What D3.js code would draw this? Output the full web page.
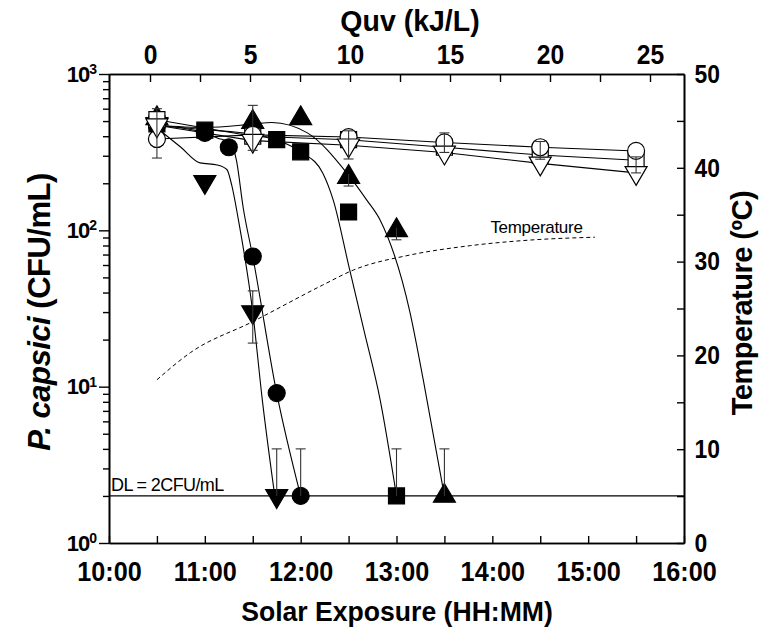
<!DOCTYPE html>
<html>
<head>
<meta charset="utf-8">
<script src="https://cdn.jsdelivr.net/npm/d3@7"></script>
<style>
  body { margin: 0; background: #fff; }
  text { font-family: "Liberation Sans", Arial, sans-serif; }
</style>
</head>
<body>
<svg id="chart" width="759" height="630"></svg>
<script>
// times are decimal hours (10.5 = 10:30), counts in CFU/mL

// filled symbols (data points)
const circT = [10.5, 11.0, 11.25, 11.5, 11.75, 12.0]
const circV = [470, 420, 340, 68, 9.1, 2]
const downT = [10.5, 11.0, 11.5, 11.75]
const downV = [480, 204, 30, 2]
const sqT = [10.5, 11.0, 11.75, 12.0, 12.5, 13.0]
const sqV = [480, 437, 380, 318, 131, 2]
const upT = [10.5, 11.5, 12.0, 12.5, 13.0, 13.5]
const upV = [520, 493, 520, 219, 100, 2]

// fitted curves for the filled series
const circFitT = [10.5, 11.0, 11.13, 11.27, 11.33, 11.4, 11.5, 11.75, 12.0]
const circFitV = [470, 420, 390, 360, 280, 140, 68, 9.1, 2]
const downFitT = [10.5, 10.75, 10.95, 11.13, 11.23, 11.28, 11.35, 11.5, 11.6, 11.73]
const downFitV = [452, 340, 270, 262, 245, 195, 117, 30, 8.2, 2]
const sqFitT = [10.5, 11.0, 11.5, 11.86, 12.02, 12.23, 12.34, 12.5, 12.66, 12.83, 13.0]
const sqFitV = [470, 440, 410, 355, 313, 233, 156, 60, 23, 8.2, 2]
const upFitT = [10.5, 11.0, 11.5, 11.7, 12.07, 12.48, 12.69, 12.83, 13.14, 13.28, 13.5]
const upFitV = [470, 455, 478, 490, 420, 233, 156, 116, 30, 11, 2]

// open symbols (controls), joined point to point
const openT = [10.5, 11.5, 12.5, 13.5, 14.5, 15.5]
const oCircV = [384, 408, 395, 365, 340, 322]
const oSqV = [510, 400, 380, 340, 303, 281]
const oDownV = [470, 375, 350, 315, 268, 233]

// error bars: [time, low, high] (null = no whisker on that side)
const errBars = [
  [10.5, 290, 600], [11.5, 325, 630], [12.5, 286, 433], [13.5, 315, 420],
  [14.5, 285, 370], [15.5, 233, 295],
  [11.5, 19, 41], [11.75, null, 4], [12.0, null, 4], [13.0, null, 4], [13.5, null, 4],
  [12.5, 192, null], [13.0, 87, null]
]

// temperature (right axis, ºC)
const tempT = [10.5, 10.85, 11.5, 12.23, 12.55, 13.14, 13.77, 14.4, 15.07]
const tempV = [17.4, 20.3, 23.6, 27.5, 29.1, 30.7, 31.7, 32.3, 32.6]

const detLimit = 2
const hourTicks = [10, 11, 12, 13, 14, 15, 16]
const quvTicks = [0, 5, 10, 15, 20, 25]

const svg = d3.select("#chart")
const margin = {top: 74, right: 75, bottom: 87, left: 109}
const W = 759 - margin.left - margin.right
const H = 630 - margin.top - margin.bottom
const g = svg.append("g").attr("transform", `translate(${margin.left},${margin.top})`)

const x = d3.scaleLinear().domain([10, 16]).range([0, W])
const y = d3.scaleLog().domain([1, 1000]).range([H, 0])
const yT = d3.scaleLinear().domain([0, 50]).range([H, 0])
const xq = d3.scaleLinear().domain([-2.05, 26.7]).range([0, W])

// ---- axes
const styleAxis = (sel, fs, sx = 1) => {
  sel.select(".domain").attr("stroke-width", 1.6)
  sel.selectAll(".tick line").attr("stroke-width", 1.4)
  sel.selectAll("text").attr("font-size", fs).attr("font-weight", "bold").attr("fill", "#000")
    .attr("transform", `scale(${sx},1)`)
}

// bottom
g.append("g").attr("transform", `translate(0,${H})`)
  .call(d3.axisBottom(x).tickValues(d3.range(10.5, 16, 1)).tickSize(-7).tickSizeOuter(0).tickFormat(""))
  .call(s => styleAxis(s, 28))
g.append("g").attr("transform", `translate(0,${H})`)
  .call(d3.axisBottom(x).tickValues(hourTicks).tickSize(-7).tickSizeOuter(0).tickPadding(18)
    .tickFormat(d => `${d}:00`))
  .call(s => styleAxis(s, 28, 0.9))

// top
g.append("g")
  .call(d3.axisTop(xq).tickValues(d3.range(2.5, 26, 5)).tickSize(-8).tickSizeOuter(0).tickFormat(""))
  .call(s => styleAxis(s, 28))
g.append("g")
  .call(d3.axisTop(xq).tickValues(quvTicks).tickSize(-8).tickSizeOuter(0).tickPadding(10))
  .call(s => styleAxis(s, 28, 0.88))

// left (log)
const minorLog = []
for (const dec of [1, 10, 100]) for (let k = 2; k <= 9; k++) minorLog.push(dec * k)
g.append("g")
  .call(d3.axisLeft(y).tickValues(minorLog).tickSize(6).tickSizeOuter(0).tickFormat(""))
  .call(s => styleAxis(s, 22))
g.append("g")
  .call(d3.axisLeft(y).tickValues([1, 10, 100, 1000]).tickSize(10).tickSizeOuter(0).tickPadding(3))
  .call(s => styleAxis(s, 22))
  .call(s => s.selectAll(".tick text").each(function(d) {
    const t = d3.select(this).text(null).attr("letter-spacing", -1)
    t.append("tspan").text("10")
    t.append("tspan").attr("dy", "-0.55em").attr("font-size", 14).text(Math.round(Math.log10(d)))
  }))

// right (temperature)
g.append("g").attr("transform", `translate(${W},0)`)
  .call(d3.axisRight(yT).tickValues([5, 15, 25, 35, 45]).tickSize(-7).tickSizeOuter(0).tickFormat(""))
  .call(s => styleAxis(s, 26))
g.append("g").attr("transform", `translate(${W},0)`)
  .call(d3.axisRight(yT).tickValues(d3.range(0, 51, 10)).tickSize(-7).tickSizeOuter(0).tickPadding(12))
  .call(s => styleAxis(s, 26, 0.88))

// axis titles
svg.append("text").attr("transform", "translate(410,31) scale(0.95,1)").attr("text-anchor", "middle")
  .attr("font-size", 30).attr("font-weight", "bold").text("Quv (kJ/L)")
svg.append("text").attr("transform", "translate(397,621) scale(0.95,1)").attr("text-anchor", "middle")
  .attr("font-size", 28).attr("font-weight", "bold").text("Solar Exposure (HH:MM)")
const lt = svg.append("text").attr("transform", "translate(50,312) rotate(-90)")
  .attr("text-anchor", "middle").attr("font-size", 31).attr("font-weight", "bold").attr("letter-spacing", -0.5)
lt.append("tspan").attr("font-style", "italic").text("P. capsici")
lt.append("tspan").text(" (CFU/mL)")
svg.append("text").attr("transform", "translate(752,303) rotate(-90)")
  .attr("text-anchor", "middle").attr("font-size", 29).attr("font-weight", "bold").attr("letter-spacing", -0.5)
  .text("Temperature (ºC)")

// ---- detection limit
g.append("line").attr("x1", 0).attr("x2", W).attr("y1", y(detLimit)).attr("y2", y(detLimit))
  .attr("stroke", "#000").attr("stroke-width", 1.3)
g.append("text").attr("x", 2).attr("y", y(detLimit) - 5).attr("font-size", 18)
  .attr("letter-spacing", -0.6).text("DL = 2CFU/mL")

// ---- temperature curve
const tLine = d3.line().x(d => x(d[0])).y(d => yT(d[1])).curve(d3.curveMonotoneX)
g.append("path").datum(d3.zip(tempT, tempV)).attr("d", tLine)
  .attr("fill", "none").attr("stroke", "#000").attr("stroke-width", 1).attr("stroke-dasharray", "4,3")
g.append("text").attr("x", x(13.98)).attr("y", yT(32.6) - 4).attr("font-size", 17)
  .attr("letter-spacing", -0.3).text("Temperature")

// ---- fitted curves and control lines
const fLine = d3.line().x(d => x(d[0])).y(d => y(d[1])).curve(d3.curveMonotoneX)
const sLine = d3.line().x(d => x(d[0])).y(d => y(d[1]))
for (const [t, v] of [[circFitT, circFitV], [downFitT, downFitV], [sqFitT, sqFitV], [upFitT, upFitV]]) {
  g.append("path").datum(d3.zip(t, v)).attr("d", fLine)
    .attr("fill", "none").attr("stroke", "#000").attr("stroke-width", 1.1)
}
for (const v of [oCircV, oSqV, oDownV]) {
  g.append("path").datum(d3.zip(openT, v)).attr("d", sLine)
    .attr("fill", "none").attr("stroke", "#000").attr("stroke-width", 1.1)
}

// ---- markers
const shape = {
  circle: () => d3.symbol(d3.symbolCircle, Math.PI * 8.5 * 8.5)(),
  square: () => d3.symbol(d3.symbolSquare, 16 * 16)(),
  up: () => "M0,-12.5L11,6.3L-11,6.3Z",
  down: () => "M0,12.5L11,-6.3L-11,-6.3Z"
}
function marks(t, v, kind, open) {
  g.append("g").selectAll("path").data(d3.zip(t, v)).join("path")
    .attr("transform", d => `translate(${x(d[0])},${y(d[1])})`)
    .attr("d", shape[kind]())
    .attr("fill", open ? "#fff" : "#000")
    .attr("stroke", "#000").attr("stroke-width", 1.2)
}
marks(circT, circV, "circle", false)
marks(sqT, sqV, "square", false)
marks(upT, upV, "up", false)
marks(downT, downV, "down", false)
marks(openT, oSqV, "square", true)
marks(openT, oCircV, "circle", true)
marks(openT, oDownV, "down", true)

// ---- error bars
const eb = g.append("g").attr("stroke", "#333").attr("stroke-width", 1.1)
errBars.forEach(([t, lo, hi]) => {
  const cx = x(t)
  const mid = y(lo != null && hi != null ? Math.sqrt(lo * hi) : (lo != null ? lo : hi) * (lo != null ? 2 : 0.5))
  const ends = []
  if (hi != null) ends.push(hi)
  if (lo != null) ends.push(lo)
  ends.forEach(e => {
    const from = lo != null && hi != null ? mid : (hi != null ? y(detLimit) : y(lo) - 12)
    eb.append("line").attr("x1", cx).attr("x2", cx).attr("y1", from).attr("y2", y(e))
    eb.append("line").attr("x1", cx - 5).attr("x2", cx + 5).attr("y1", y(e)).attr("y2", y(e))
  })
})
</script>
</body>
</html>
